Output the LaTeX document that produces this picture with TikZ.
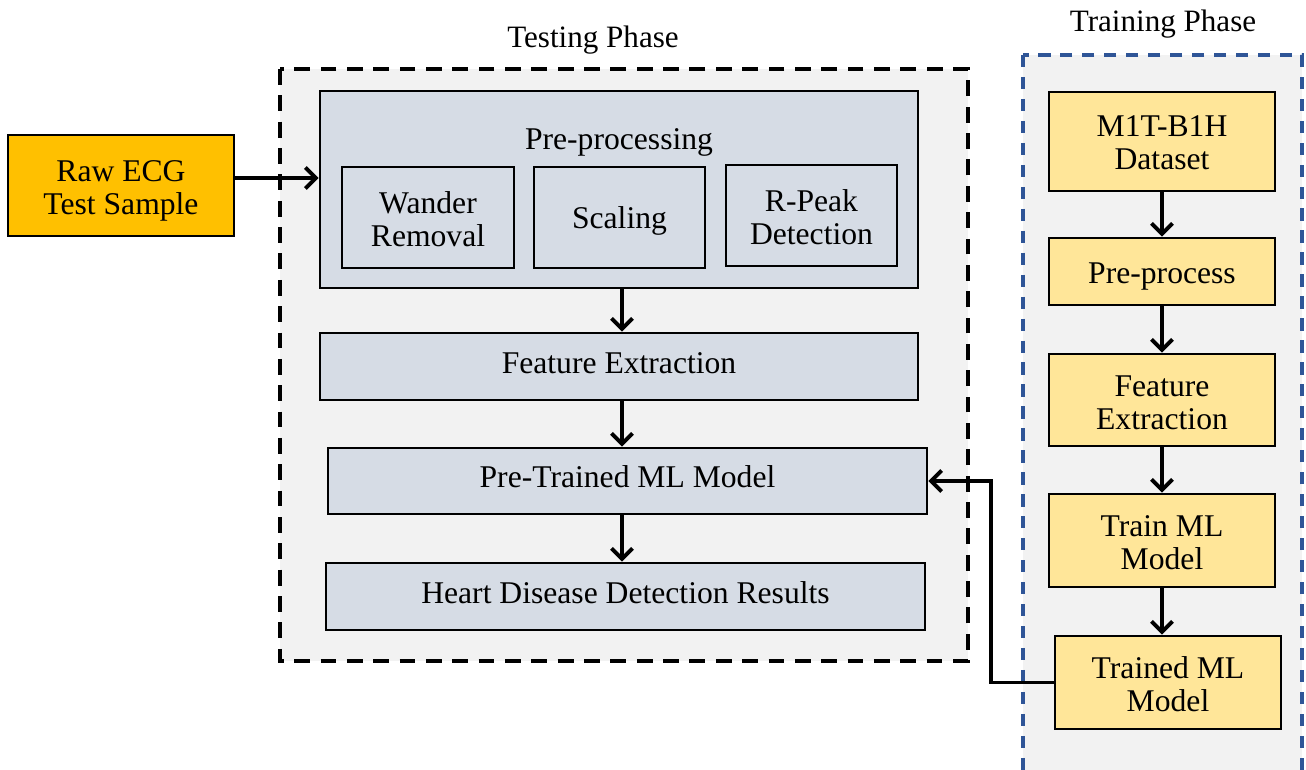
\documentclass[tikz,border=0pt]{standalone}
\usepackage{fontspec}
\setmainfont{Liberation Serif}
\usetikzlibrary{arrows.meta}
\definecolor{rawc}{HTML}{FFC000}
\definecolor{trc}{HTML}{FFE699}
\definecolor{tsc}{HTML}{D6DCE5}
\definecolor{bgc}{HTML}{F2F2F2}
\definecolor{bluedash}{HTML}{2F5597}
\newcommand\liftxt[2]{\raisebox{#1}[\height][\depth]{\begin{tabular}{@{}c@{}}#2\end{tabular}}}
\tikzset{
  sz/.style 2 args={minimum width=#1*0.02cm, minimum height=#2*0.02cm},
  base/.style={draw=black, line width=1.6pt, align=center, inner sep=0pt,
    font=\fontsize{18}{18.8}\selectfont},
  rawbox/.style={base, fill=rawc},
  trbox/.style={base, fill=trc},
  tsbox/.style={base, fill=tsc},
  arr/.style={line width=2.2pt, -{Straight Barb[length=6pt,width=12pt,line width=2.2pt]}},
  phase/.style={font=\fontsize{17.7}{19}\selectfont, inner sep=0pt},
}
\begin{document}
\begin{tikzpicture}[x=0.02cm,y=-0.02cm]
\useasboundingbox (0,0) rectangle (1306,770);
\fill[white] (0,0) rectangle (1306,770);
% phase frames
\draw[line width=2.4pt, dash pattern=on 9pt off 6pt, fill=bgc] (280,69) rectangle (968,661);
\draw[line width=2pt, draw=bluedash, dash pattern=on 7pt off 5.5pt, fill=bgc] (1023,55) rectangle (1302,800);
\node[phase] (testlbl) at (593,40) {Testing Phase};
\node[phase] (trainlbl) at (1163,24) {Training Phase};
% raw input
\node[rawbox, sz={226}{101}] (raw) at (121,185.5) {\liftxt{-3.4pt}{Raw ECG\\Test Sample}};
% testing phase
\node[tsbox, sz={598}{197}] (pre) at (619,189.5) {};
\node[base, draw=none, fill=none] (pretitle) at (619,141) {\liftxt{-1.1pt}{Pre-processing}};
\node[tsbox, sz={172}{101}] (wander) at (428,217.5) {\liftxt{-3.1pt}{Wander\\Removal}};
\node[tsbox, sz={171}{101}] (scal) at (619.5,217.5) {\liftxt{-2.3pt}{Scaling}};
\node[tsbox, sz={171}{101}] (rpeak) at (811.5,215.5) {\liftxt{-3.1pt}{R-Peak\\Detection}};
\node[tsbox, sz={598}{67}] (feat) at (619,366.5) {\liftxt{0pt}{Feature Extraction}};
\node[tsbox, sz={599}{66}] (pt) at (627.5,481) {\liftxt{0pt}{Pre-Trained ML Model}};
\node[tsbox, sz={599}{67}] (hd) at (625.5,596.5) {\liftxt{0pt}{Heart Disease Detection Results}};
% training phase
\node[trbox, sz={226}{99}] (ds) at (1162,141.5) {\liftxt{-2.8pt}{M1T-B1H\\Dataset}};
\node[trbox, sz={226}{67}] (pp) at (1162,271.5) {\liftxt{-2.8pt}{Pre-process}};
\node[trbox, sz={226}{92}] (fe) at (1162,400) {\liftxt{-3.4pt}{Feature\\Extraction}};
\node[trbox, sz={226}{93}] (tm) at (1162,540.5) {\liftxt{-3.1pt}{Train ML\\Model}};
\node[trbox, sz={226}{93}] (tr) at (1168,682.5) {\liftxt{-3.1pt}{Trained ML\\Model}};
% connectors
\coordinate (ax) at (622,0);
\coordinate (ay) at (0,178);
\coordinate (bx) at (1162,0);
\coordinate (bend) at (991,0);
\draw[arr] (raw.east |- ay) -- (pre.west |- ay);
\draw[arr] (pre.south -| ax) -- (feat.north -| ax);
\draw[arr] (feat.south -| ax) -- (pt.north -| ax);
\draw[arr] (pt.south -| ax) -- (hd.north -| ax);
\draw[arr] (ds.south -| bx) -- (pp.north -| bx);
\draw[arr] (pp.south -| bx) -- (fe.north -| bx);
\draw[arr] (fe.south -| bx) -- (tm.north -| bx);
\draw[arr] (tm.south -| bx) -- (tr.north -| bx);
\draw[arr] (tr.west) -- (tr.west -| bend) |- (pt.east);
\end{tikzpicture}
\end{document}
